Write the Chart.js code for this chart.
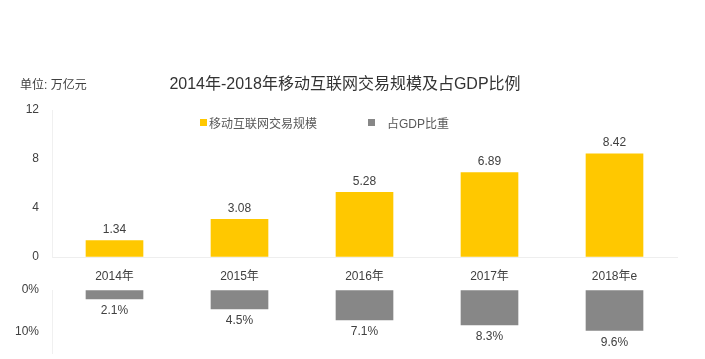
<!DOCTYPE html>
<html><head><meta charset="utf-8">
<script src="https://cdn.jsdelivr.net/npm/chart.js@4.4.1/dist/chart.umd.min.js"></script>
<style>
html,body{margin:0;padding:0;background:#fff;}
#wrap{position:relative;width:705px;height:359px;overflow:hidden;font-family:"Liberation Sans","Noto Sans CJK SC",sans-serif;}
canvas{position:absolute;left:0;}
#title{position:absolute;left:0;width:690px;top:70px;text-align:center;font-size:16px;color:#333;white-space:nowrap;}
#unit{position:absolute;left:20px;top:75px;font-size:12px;color:#404040;}
.lg{position:absolute;top:114px;font-size:12px;color:#595959;white-space:nowrap;}
.sq{position:absolute;width:7px;height:7px;}
</style></head>
<body><div id="wrap">
<canvas id="top" width="705" height="290" style="top:0"></canvas>
<canvas id="bot" width="705" height="79" style="top:280px"></canvas>
<div id="title">2014年-2018年移动互联网交易规模及占GDP比例</div>
<div id="unit">单位: 万亿元</div>
<div class="sq" style="left:200px;top:119px;background:#FFC800"></div>
<div class="lg" style="left:209px">移动互联网交易规模</div>
<div class="sq" style="left:368px;top:119px;background:#878787"></div>
<div class="lg" style="left:387px">占GDP比重</div>
</div>
<script>
const categories = ["2014年","2015年","2016年","2017年","2018年e"];
const tradeScale = [1.34, 3.08, 5.28, 6.89, 8.42];
const gdpShare = [2.1, 4.5, 7.1, 8.3, 9.6];
const topTicks = [0, 4, 8, 12];
const botTicks = [0, 10];

const FONT = {family:'"Liberation Sans","Noto Sans CJK SC",sans-serif', size:12};

const labelPlugin = {
  id:'vlabels',
  afterDatasetsDraw(chart, args, opts){
    const ctx = chart.ctx;
    const meta = chart.getDatasetMeta(0);
    const data = chart.data.datasets[0].data;
    ctx.save();
    ctx.font = '12px ' + FONT.family;
    ctx.fillStyle = '#404040';
    ctx.textAlign = 'center';
    ctx.textBaseline = 'middle';
    meta.data.forEach((bar,i)=>{
      ctx.fillText(opts.fmt(data[i]), bar.x, bar.y + opts.offset);
    });
    ctx.restore();
  }
};

new Chart(document.getElementById('top'), {
  type:'bar',
  data:{labels:categories, datasets:[{data:tradeScale, backgroundColor:'#FFC800', barThickness:57}]},
  options:{
    responsive:false, animation:false,
    layout:{padding:{top:110,right:28,left:0,bottom:0}},
    plugins:{legend:{display:false}, tooltip:{enabled:false},
      vlabels:{offset:-11, fmt:v=>v.toFixed(2)}},
    scales:{
      x:{grid:{display:true,drawOnChartArea:false,drawTicks:false},
         border:{display:true,color:'#eeeeee'},
         ticks:{font:FONT,color:'#404040',padding:12},
         afterFit(s){s.height=33;}},
      y:{min:0,max:12,
         afterBuildTicks(s){s.ticks=topTicks.map(v=>({value:v}));},
         grid:{display:true,drawOnChartArea:false,drawTicks:false},
         border:{display:true,color:'#f0f0f0'},
         ticks:{font:FONT,color:'#404040',padding:13},
         afterFit(s){s.width=52;}}
    }
  },
  plugins:[labelPlugin]
});

new Chart(document.getElementById('bot'), {
  type:'bar',
  data:{labels:categories, datasets:[{data:gdpShare, backgroundColor:'#878787', barThickness:57}]},
  options:{
    responsive:false, animation:false,
    layout:{padding:{top:10,right:28,left:0,bottom:6}},
    plugins:{legend:{display:false}, tooltip:{enabled:false},
      vlabels:{offset:12, fmt:v=>v.toFixed(1)+'%'}},
    scales:{
      x:{display:false},
      y:{min:0,max:15,reverse:true,
         afterBuildTicks(s){s.ticks=botTicks.map(v=>({value:v}));},
         grid:{display:true,drawOnChartArea:false,drawTicks:false},
         border:{display:true,color:'#f0f0f0'},
         ticks:{font:FONT,color:'#404040',padding:13,callback:v=>v+'%'},
         afterFit(s){s.width=52;s.paddingTop=0;s.paddingBottom=0;}}
    }
  },
  plugins:[labelPlugin]
});
</script>
</body></html>
